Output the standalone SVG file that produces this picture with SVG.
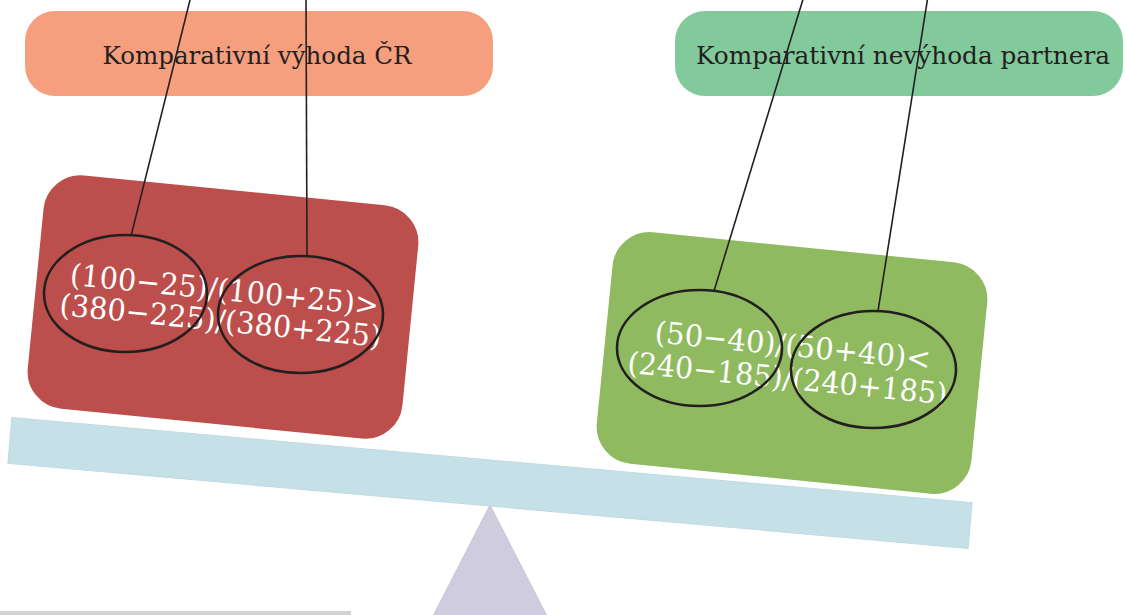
<svg xmlns="http://www.w3.org/2000/svg" width="1125" height="615" viewBox="0 0 1125 615">
<style>
.lbl{font-family:"DejaVu Serif","Liberation Serif",serif;font-size:25px;fill:#231f20;text-anchor:middle}
.frm{font-family:"DejaVu Serif","Liberation Serif",serif;font-size:30px;fill:#ffffff;text-anchor:middle}
.ell{fill:none;stroke:#231f20;stroke-width:2.6}
.con{stroke:#231f20;stroke-width:1.6;fill:none}
.card{stroke:#ffffff;stroke-width:1.5}
</style>
<rect width="1125" height="615" fill="#ffffff"/>
<g id="base">
  <rect x="0" y="611" width="351" height="4" fill="#d2d2d2"/>
  <polygon points="490,505 432,618 548,618" fill="#cfcddd" stroke="#c9c6d8" stroke-width="1"/>
</g>
<g id="beam">
  <rect x="-482" y="-23" width="964" height="46" fill="#c6e0e7" stroke="#bfdae2" stroke-width="1" transform="translate(490,483) rotate(5.06)"/>
</g>
<g id="label-cr">
  <rect x="25" y="11" width="468" height="85" rx="30" fill="#f69f7f"/>
  <text class="lbl" x="257" y="64" textLength="309" lengthAdjust="spacingAndGlyphs">Komparativní výhoda ČR</text>
</g>
<g id="label-partner">
  <rect x="675" y="11" width="448" height="85" rx="30" fill="#82ca9c"/>
  <text class="lbl" x="903" y="64" textLength="414" lengthAdjust="spacingAndGlyphs">Komparativní nevýhoda partnera</text>
</g>
<g id="card-cr">
  <rect class="card" x="-189" y="-118" width="378" height="236" rx="38" fill="#bc4f4b" transform="translate(223,307) rotate(5.65)"/>
  <g transform="translate(222,306) rotate(5.7)">
    <text class="frm" x="1" y="-6" textLength="310" lengthAdjust="spacingAndGlyphs">(100−25)/(100+25)&gt;</text>
    <text class="frm" x="0" y="25" textLength="323" lengthAdjust="spacingAndGlyphs">(380−225)/(380+225)</text>
  </g>
  <ellipse class="ell" cx="125.5" cy="293.5" rx="81.5" ry="58.5"/>
  <ellipse class="ell" cx="300.5" cy="314.5" rx="82.5" ry="58.5"/>
</g>
<g id="card-partner">
  <rect class="card" x="-189" y="-117" width="378" height="234" rx="38" fill="#8fba5f" transform="translate(792,363) rotate(5.7)"/>
  <g transform="translate(792,363) rotate(5.7)">
    <text class="frm" x="-1" y="-7" textLength="277" lengthAdjust="spacingAndGlyphs">(50−40)/(50+40)&lt;</text>
    <text class="frm" x="-3" y="26" textLength="321" lengthAdjust="spacingAndGlyphs">(240−185)/(240+185)</text>
  </g>
  <ellipse class="ell" cx="699.5" cy="348" rx="82.5" ry="58"/>
  <ellipse class="ell" cx="873.5" cy="369.5" rx="82.5" ry="58.5"/>
</g>
<g id="connectors">
  <line class="con" x1="191" y1="-4" x2="131" y2="236"/>
  <line class="con" x1="306" y1="-4" x2="307" y2="256"/>
  <line class="con" x1="804" y1="-4" x2="714" y2="291"/>
  <line class="con" x1="928" y1="-4" x2="878" y2="311"/>
</g>
</svg>
